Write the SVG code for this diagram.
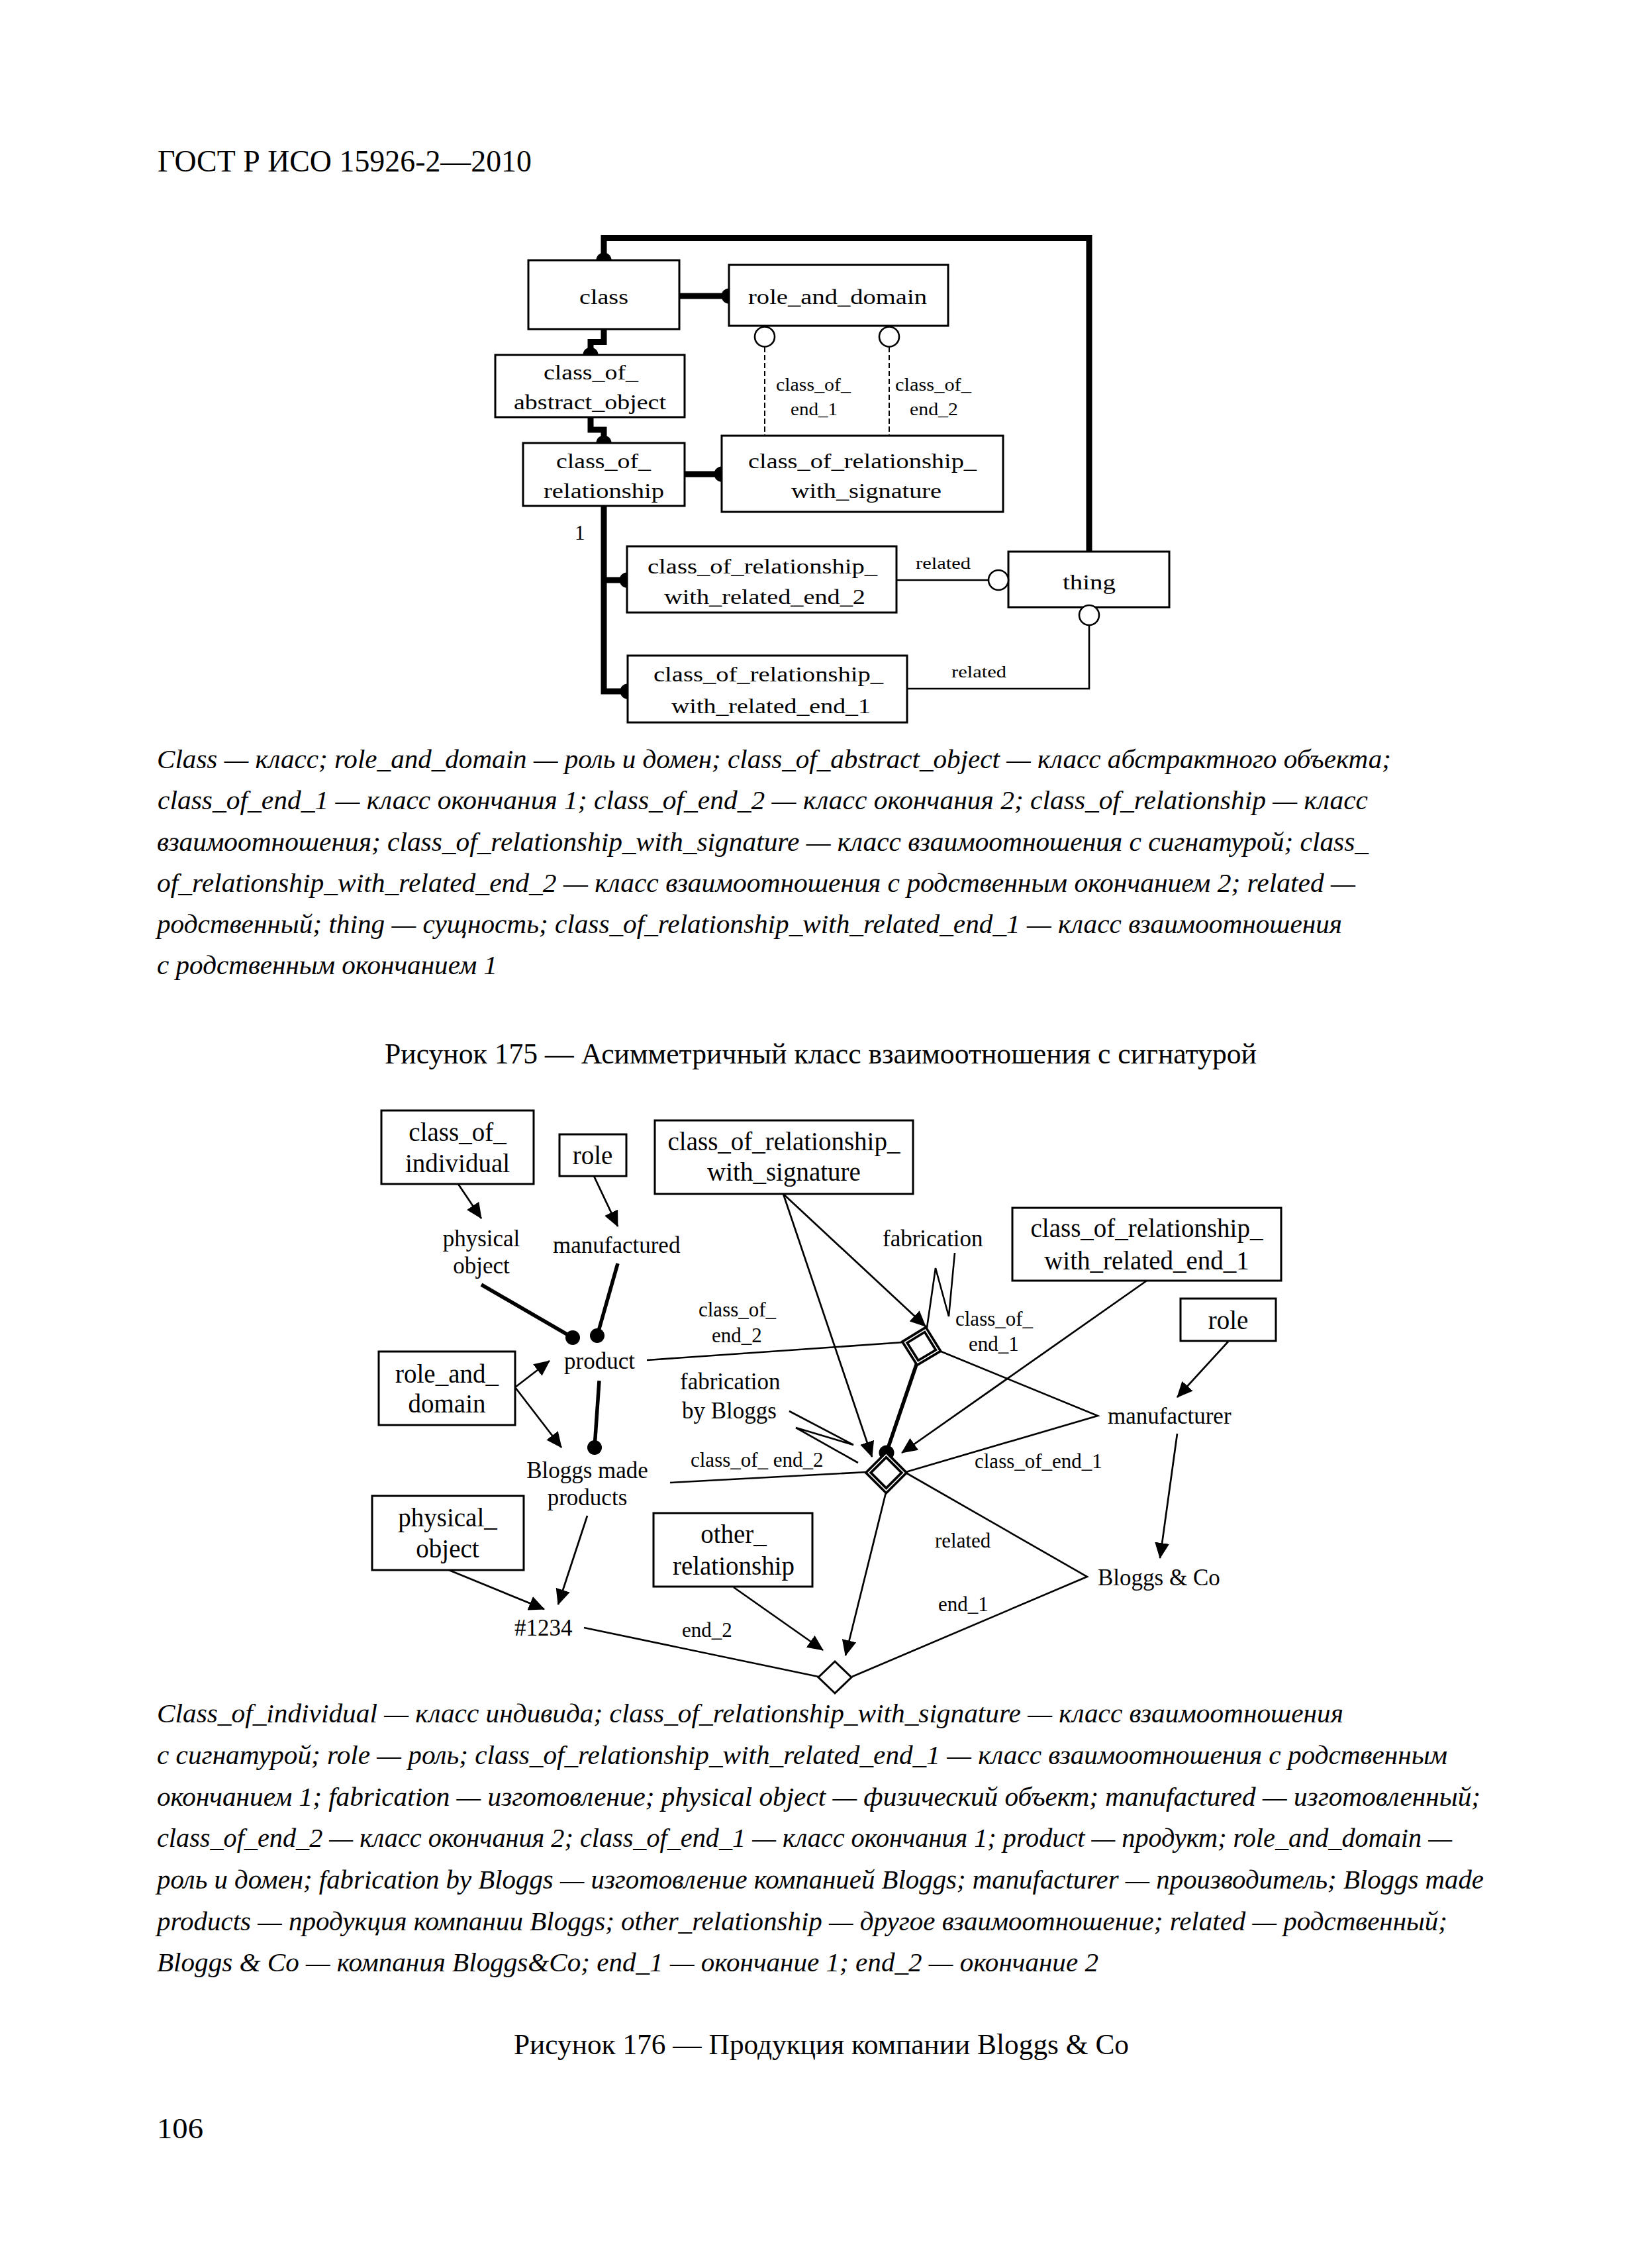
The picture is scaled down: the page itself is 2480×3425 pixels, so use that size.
<svg xmlns="http://www.w3.org/2000/svg" width="2480" height="3425" viewBox="0 0 2480 3425">
<defs>
<style>
.bg{fill:#fff}
.box{fill:#fff;stroke:#000;stroke-width:3}
.t{font-family:"Liberation Serif","Times New Roman",serif;fill:#000}
.b1{font-size:31px}
.s1{font-size:28px}
.r1{font-size:26px}
.b2{font-size:39px;text-anchor:middle}
.l2{font-size:35px}
.s2{font-size:31px}
.cap{font-size:41px;font-style:italic}
.fig{font-size:44px}
.thick{stroke:#000;stroke-width:9;fill:none}
.thick2{stroke:#000;stroke-width:5.5;fill:none}
.thin{stroke:#000;stroke-width:2.6;fill:none}
.dash{stroke:#000;stroke-width:2;stroke-dasharray:8 4;fill:none}
.arr{stroke:#000;stroke-width:2.7;fill:none;marker-end:url(#ah)}
.dot{fill:#000}
.oc{fill:#fff;stroke:#000;stroke-width:2.6}
</style>
<marker id="ah" markerUnits="userSpaceOnUse" markerWidth="24" markerHeight="22" viewBox="0 0 24 22" refX="23" refY="11" orient="auto"><path d="M0,0 L24,11 L0,22 z" fill="#000"/></marker>
</defs>
<rect class="bg" x="0" y="0" width="2480" height="3425"/>

<text class="t" x="238" y="259" font-size="47" textLength="565" lengthAdjust="spacingAndGlyphs">ГОСТ Р ИСО 15926-2—2010</text>

<!-- ===== Figure 175 ===== -->
<g id="connectors-175">
<path class="thick" d="M912,393 V359.5 H1645 V833"/>
<path class="thick" d="M1026,447 H1101"/>
<path class="thick" d="M912,497 V516.5 H892 V536"/>
<path class="thick" d="M892,630 V649 H912 V669"/>
<path class="thick" d="M1034,716 H1090"/>
<path class="thick" d="M912,764 V1044 H948"/>
<path class="thick" d="M912,876 H947"/>
<path class="dash" d="M1155,524 V658"/>
<path class="dash" d="M1343,524 V658"/>
<path class="thin" d="M1354,876 H1493"/>
<path class="thin" d="M1645,944 V1040 H1370"/>
<circle class="dot" cx="912" cy="393" r="11.5"/>
<circle class="dot" cx="1101" cy="447" r="11.5"/>
<circle class="dot" cx="892" cy="536" r="11.5"/>
<circle class="dot" cx="912" cy="669" r="11.5"/>
<circle class="dot" cx="1090" cy="716" r="11.5"/>
<circle class="dot" cx="947" cy="876" r="11.5"/>
<circle class="dot" cx="948" cy="1044" r="11.5"/>
<text class="t s1" x="1172" y="590" textLength="113" lengthAdjust="spacingAndGlyphs">class_of_</text>
<text class="t s1" x="1194" y="627" textLength="71" lengthAdjust="spacingAndGlyphs">end_1</text>
<text class="t s1" x="1352" y="590" textLength="115" lengthAdjust="spacingAndGlyphs">class_of_</text>
<text class="t s1" x="1374" y="627" textLength="73" lengthAdjust="spacingAndGlyphs">end_2</text>
<text class="t b1" x="868" y="815">1</text>
<text class="t r1" x="1383" y="859" textLength="83" lengthAdjust="spacingAndGlyphs">related</text>
<text class="t r1" x="1437" y="1023" textLength="83" lengthAdjust="spacingAndGlyphs">related</text>
</g>

<g id="n175-class">
<rect class="box" x="798" y="393" width="228" height="104"/>
<text class="t b1" x="875" y="459" textLength="74" lengthAdjust="spacingAndGlyphs">class</text>
</g>
<g id="n175-role_and_domain">
<rect class="box" x="1101" y="400" width="331" height="92"/>
<text class="t b1" x="1130" y="459" textLength="270" lengthAdjust="spacingAndGlyphs">role_and_domain</text>
<circle class="oc" cx="1155" cy="508.5" r="15"/>
<circle class="oc" cx="1343" cy="508.5" r="15"/>
</g>
<g id="n175-class_of_abstract_object">
<rect class="box" x="748" y="536" width="286" height="94"/>
<text class="t b1" x="821" y="573" textLength="143" lengthAdjust="spacingAndGlyphs">class_of_</text>
<text class="t b1" x="776" y="618" textLength="230" lengthAdjust="spacingAndGlyphs">abstract_object</text>
</g>
<g id="n175-class_of_relationship">
<rect class="box" x="790" y="669" width="244" height="95"/>
<text class="t b1" x="840" y="707" textLength="143" lengthAdjust="spacingAndGlyphs">class_of_</text>
<text class="t b1" x="821" y="752" textLength="182" lengthAdjust="spacingAndGlyphs">relationship</text>
</g>
<g id="n175-class_of_relationship_with_signature">
<rect class="box" x="1090" y="658" width="425" height="115"/>
<text class="t b1" x="1130" y="707" textLength="345" lengthAdjust="spacingAndGlyphs">class_of_relationship_</text>
<text class="t b1" x="1195" y="752" textLength="227" lengthAdjust="spacingAndGlyphs">with_signature</text>
</g>
<g id="n175-class_of_relationship_with_related_end_2">
<rect class="box" x="947" y="825" width="407" height="100"/>
<text class="t b1" x="978" y="866" textLength="347" lengthAdjust="spacingAndGlyphs">class_of_relationship_</text>
<text class="t b1" x="1003" y="912" textLength="304" lengthAdjust="spacingAndGlyphs">with_related_end_2</text>
</g>
<g id="n175-thing">
<rect class="box" x="1523" y="833" width="243" height="84"/>
<text class="t b1" x="1605" y="890" textLength="80" lengthAdjust="spacingAndGlyphs">thing</text>
<circle class="oc" cx="1508" cy="876" r="15"/>
<circle class="oc" cx="1645" cy="929" r="15"/>
</g>
<g id="n175-class_of_relationship_with_related_end_1">
<rect class="box" x="948" y="990" width="422" height="101"/>
<text class="t b1" x="987" y="1029" textLength="347" lengthAdjust="spacingAndGlyphs">class_of_relationship_</text>
<text class="t b1" x="1014" y="1077" textLength="301" lengthAdjust="spacingAndGlyphs">with_related_end_1</text>
</g>

<g id="caption-175">
<text class="t cap" x="237" y="1160" textLength="1864" lengthAdjust="spacingAndGlyphs">Class — класс; role_and_domain — роль и домен; class_of_abstract_object — класс абстрактного объекта;</text>
<text class="t cap" x="238" y="1222" textLength="1828" lengthAdjust="spacingAndGlyphs">class_of_end_1 — класс окончания 1; class_of_end_2 — класс окончания 2; class_of_relationship — класс</text>
<text class="t cap" x="237" y="1285" textLength="1830" lengthAdjust="spacingAndGlyphs">взаимоотношения; class_of_relationship_with_signature — класс взаимоотношения с сигнатурой; class_</text>
<text class="t cap" x="237" y="1347" textLength="1810" lengthAdjust="spacingAndGlyphs">of_relationship_with_related_end_2 — класс взаимоотношения с родственным окончанием 2; related —</text>
<text class="t cap" x="237" y="1409" textLength="1790" lengthAdjust="spacingAndGlyphs">родственный; thing — сущность; class_of_relationship_with_related_end_1 — класс взаимоотношения</text>
<text class="t cap" x="237" y="1471" textLength="514" lengthAdjust="spacingAndGlyphs">с родственным окончанием 1</text>
</g>
<text class="t fig" x="581" y="1606" textLength="1317" lengthAdjust="spacingAndGlyphs">Рисунок 175 — Асимметричный класс взаимоотношения с сигнатурой</text>

<!-- ===== Figure 176 ===== -->
<g id="connectors-176">
<path class="arr" d="M692,1788 L727,1840"/>
<path class="arr" d="M897,1776 L933,1852"/>
<path class="thick2" d="M727,1940 L865,2020"/>
<path class="thick2" d="M933,1908 L902,2017"/>
<circle class="dot" cx="865" cy="2020" r="11"/>
<circle class="dot" cx="902" cy="2017" r="11"/>
<path class="arr" d="M778,2095 L830,2055"/>
<path class="arr" d="M778,2095 L848,2186"/>
<path class="thick2" d="M905,2085 L898,2186"/>
<circle class="dot" cx="898" cy="2186" r="11"/>
<path class="thin" d="M977,2054 L1365,2027"/>
<path class="arr" d="M1183,1803 L1398,2003"/>
<path class="arr" d="M1183,1803 L1317,2200"/>
<path class="thin" d="M1442,1892 L1433,1988 L1413,1915 L1400,2005"/>
<path class="thin" d="M1419,2040 L1658,2138 L1368,2223"/>
<path class="thick2" d="M1385,2058 L1339,2193"/>
<circle class="dot" cx="1339" cy="2194" r="11.5"/>
<path class="arr" d="M1732,1934 L1362,2194"/>
<path class="arr" d="M1855,2026 L1778,2110"/>
<path class="arr" d="M1778,2165 L1752,2353"/>
<path class="thin" d="M1368,2224 L1642,2381 L1287,2532"/>
<path class="thin" d="M1012,2239 L1310,2223"/>
<path class="thin" d="M1192,2131 L1289,2182 L1202,2156 L1296,2209"/>
<path class="arr" d="M678,2371 L822,2430"/>
<path class="arr" d="M887,2289 L843,2423"/>
<path class="thin" d="M882,2458 L1236,2532"/>
<path class="arr" d="M1108,2397 L1243,2492"/>
<path class="arr" d="M1338,2254 L1277,2500"/>
</g>

<g id="n176-rel-fabrication">
<polygon points="1397.5,2008 1417,2039.5 1386,2058 1366.5,2027" fill="#fff" stroke="#000" stroke-width="9" stroke-linejoin="miter"/>
<polygon points="1397.5,2008 1417,2039.5 1386,2058 1366.5,2027" fill="none" stroke="#fff" stroke-width="1.6"/>
</g>
<g id="n176-rel-fabrication-by-bloggs">
<polygon points="1338.5,2197 1365.5,2224 1338.5,2251 1311.5,2224" fill="#fff" stroke="#000" stroke-width="9"/>
<polygon points="1338.5,2197 1365.5,2224 1338.5,2251 1311.5,2224" fill="none" stroke="#fff" stroke-width="1.6"/>
</g>
<g id="n176-rel-1234">
<polygon points="1261,2509 1286,2533 1261,2557 1236,2533" fill="#fff" stroke="#000" stroke-width="3"/>
</g>

<g id="n176-class_of_individual">
<rect class="box" x="576" y="1677" width="230" height="111"/>
<text class="t b2" x="691" y="1723">class_of_</text>
<text class="t b2" x="691" y="1770">individual</text>
</g>
<g id="n176-role-1">
<rect class="box" x="845" y="1713" width="101" height="63"/>
<text class="t b2" x="895" y="1758">role</text>
</g>
<g id="n176-class_of_relationship_with_signature">
<rect class="box" x="989" y="1692" width="390" height="111"/>
<text class="t b2" x="1184" y="1737">class_of_relationship_</text>
<text class="t b2" x="1184" y="1783">with_signature</text>
</g>
<g id="n176-class_of_relationship_with_related_end_1">
<rect class="box" x="1529" y="1824" width="406" height="110"/>
<text class="t b2" x="1732" y="1868">class_of_relationship_</text>
<text class="t b2" x="1732" y="1917">with_related_end_1</text>
</g>
<g id="n176-role-2">
<rect class="box" x="1783" y="1961" width="144" height="64"/>
<text class="t b2" x="1855" y="2007">role</text>
</g>
<g id="n176-role_and_domain">
<rect class="box" x="572" y="2041" width="206" height="111"/>
<text class="t b2" x="675" y="2088">role_and_</text>
<text class="t b2" x="675" y="2133">domain</text>
</g>
<g id="n176-physical_object">
<rect class="box" x="562" y="2259" width="229" height="112"/>
<text class="t b2" x="676" y="2305">physical_</text>
<text class="t b2" x="676" y="2352">object</text>
</g>
<g id="n176-other_relationship">
<rect class="box" x="987" y="2285" width="240" height="111"/>
<text class="t b2" x="1108" y="2330">other_</text>
<text class="t b2" x="1108" y="2378">relationship</text>
</g>

<g id="n176-labels">
<text class="t l2" x="727" y="1882" text-anchor="middle">physical</text>
<text class="t l2" x="727" y="1923" text-anchor="middle">object</text>
<text class="t l2" x="835" y="1892">manufactured</text>
<text class="t l2" x="852" y="2067">product</text>
<text class="t l2" x="887" y="2232" text-anchor="middle">Bloggs made</text>
<text class="t l2" x="887" y="2273" text-anchor="middle">products</text>
<text class="t l2" x="777" y="2470">#1234</text>
<text class="t l2" x="1333" y="1882">fabrication</text>
<text class="t l2" x="1027" y="2098">fabrication</text>
<text class="t l2" x="1030" y="2142">by Bloggs</text>
<text class="t l2" x="1673" y="2150">manufacturer</text>
<text class="t l2" x="1658" y="2394">Bloggs &amp; Co</text>
<text class="t s2" x="1055" y="1988">class_of_</text>
<text class="t s2" x="1075" y="2027">end_2</text>
<text class="t s2" x="1443" y="2002">class_of_</text>
<text class="t s2" x="1463" y="2040">end_1</text>
<text class="t s2" x="1043" y="2215">class_of_ end_2</text>
<text class="t s2" x="1472" y="2217">class_of_end_1</text>
<text class="t s2" x="1412" y="2337">related</text>
<text class="t s2" x="1417" y="2433">end_1</text>
<text class="t s2" x="1030" y="2472">end_2</text>
</g>

<g id="caption-176">
<text class="t cap" x="237" y="2601" textLength="1792" lengthAdjust="spacingAndGlyphs">Class_of_individual — класс индивида; class_of_relationship_with_signature — класс взаимоотношения</text>
<text class="t cap" x="237" y="2664" textLength="1949" lengthAdjust="spacingAndGlyphs">с сигнатурой; role — роль; class_of_relationship_with_related_end_1 — класс взаимоотношения с родственным</text>
<text class="t cap" x="237" y="2727" textLength="1999" lengthAdjust="spacingAndGlyphs">окончанием 1; fabrication — изготовление; physical object — физический объект; manufactured — изготовленный;</text>
<text class="t cap" x="237" y="2789" textLength="1956" lengthAdjust="spacingAndGlyphs">class_of_end_2 — класс окончания 2; class_of_end_1 — класс окончания 1; product — продукт; role_and_domain —</text>
<text class="t cap" x="237" y="2852" textLength="2004" lengthAdjust="spacingAndGlyphs">роль и домен; fabrication by Bloggs — изготовление компанией Bloggs; manufacturer — производитель; Bloggs made</text>
<text class="t cap" x="237" y="2915" textLength="1949" lengthAdjust="spacingAndGlyphs">products — продукция компании Bloggs; other_relationship — другое взаимоотношение; related — родственный;</text>
<text class="t cap" x="237" y="2977" textLength="1422" lengthAdjust="spacingAndGlyphs">Bloggs &amp; Co — компания Bloggs&amp;Co; end_1 — окончание 1; end_2 — окончание 2</text>
</g>
<text class="t fig" x="776" y="3102" textLength="929" lengthAdjust="spacingAndGlyphs">Рисунок 176 — Продукция компании Bloggs &amp; Co</text>
<text class="t fig" x="237" y="3229" textLength="70" lengthAdjust="spacingAndGlyphs">106</text>
</svg>
